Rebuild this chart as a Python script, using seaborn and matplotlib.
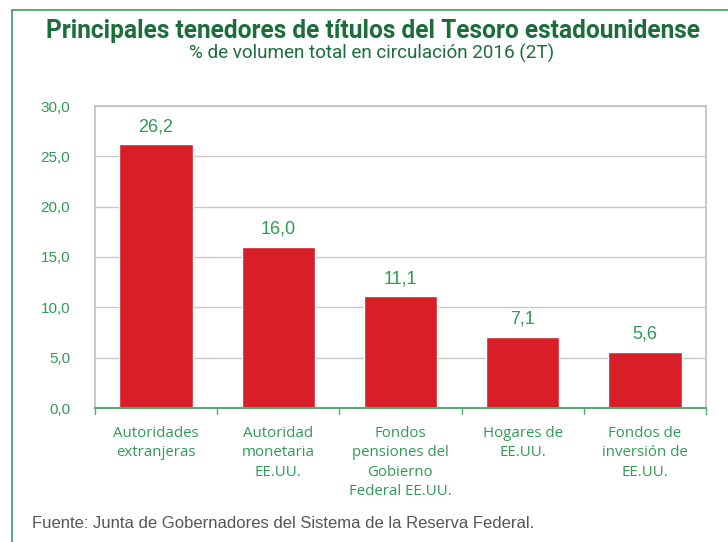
import matplotlib
matplotlib.use('Agg')
import matplotlib.pyplot as plt
import seaborn as sns
import pandas as pd
from matplotlib.patches import Rectangle

# datos
categorias = ['Autoridades\nextranjeras', 'Autoridad\nmonetaria\nEE.UU.',
              'Fondos\npensiones del\nGobierno\nFederal EE.UU.', 'Hogares de\nEE.UU.',
              'Fondos de\ninversión de\nEE.UU.']
valores = [26.2, 16.0, 11.1, 7.1, 5.6]
ticks_y = [0, 5, 10, 15, 20, 25, 30]

verde_osc = '#1b6e3a'
verde = '#2f9a55'
rojo = '#d81f27'

df = pd.DataFrame({'cat': categorias, 'val': valores})

sns.set_style('white')
fig = plt.figure(figsize=(7.28, 5.42), dpi=100)
ax = fig.add_axes([95 / 728, 1 - 408 / 542, (706 - 95) / 728, (408 - 106) / 542])

sns.barplot(data=df, x='cat', y='val', color=rojo, width=0.6, saturation=1, ax=ax)

ax.set_ylim(0, 30)
ax.set_xlim(-0.5, len(categorias) - 0.5)
ax.set_yticks(ticks_y)
ax.set_yticklabels([f'{t:.1f}'.replace('.', ',') for t in ticks_y],
                   color=verde, fontsize=11, family='Liberation Sans')
ax.set_xticks(range(len(categorias)))
ax.set_xticklabels(categorias, color=verde, fontsize=10.8, family='Open Sans', linespacing=1.4)
ax.tick_params(axis='x', length=0, pad=13)
ax.tick_params(axis='y', length=0, pad=18)
ax.set_xlabel('')
ax.set_ylabel('')
ax.yaxis.grid(True, color='#c8c8c8', linewidth=1)
ax.set_axisbelow(True)
for s in ['top', 'right', 'left']:
    ax.spines[s].set_color('#bfbfbf')
    ax.spines[s].set_linewidth(1.2)
ax.spines['bottom'].set_color('#5aa874')
ax.spines['bottom'].set_linewidth(1.5)

# marcas de separación en el eje x
for b in range(len(categorias) + 1):
    ax.plot([b - 0.5, b - 0.5], [0, -0.6], color='#5aa874', lw=1, clip_on=False)

for i, v in enumerate(valores):
    ax.text(i, v + 0.9, f'{v:.1f}'.replace('.', ','), ha='center', va='bottom',
            color=verde, fontsize=13, family='Liberation Sans')

titulo = fig.text(0.513, 1 - 31 / 542, 'Principales tenedores de títulos del Tesoro estadounidense',
                  ha='center', va='center', color=verde_osc, fontsize=18, fontweight='bold',
                  family='Roboto', fontstretch='condensed')
subtitulo = fig.text(0.511, 1 - 53 / 542, '% de volumen total en circulación 2016 (2T)',
                     ha='center', va='center', color=verde_osc, fontsize=12,
                     family='Roboto', fontstretch='condensed')
fig.text(32 / 728, 1 - 523 / 542, 'Fuente: Junta de Gobernadores del Sistema de la Reserva Federal.',
         ha='left', va='center', color='#555555', fontsize=12, family='Liberation Sans')

# ajustar el ancho de título y subtítulo al de la referencia
fig.canvas.draw()
r = fig.canvas.get_renderer()
for t, ancho in [(titulo, 655), (subtitulo, 365)]:
    w = t.get_window_extent(r).width
    t.set_fontsize(t.get_fontsize() * ancho / w)

# marco verde
fig.patches.append(Rectangle((12 / 728, -0.1), 1.1, 1 - 10 / 542 + 0.1, transform=fig.transFigure,
                             fill=False, edgecolor='#3f9a5e', linewidth=1.2))

fig.savefig('out.png', dpi=100)
